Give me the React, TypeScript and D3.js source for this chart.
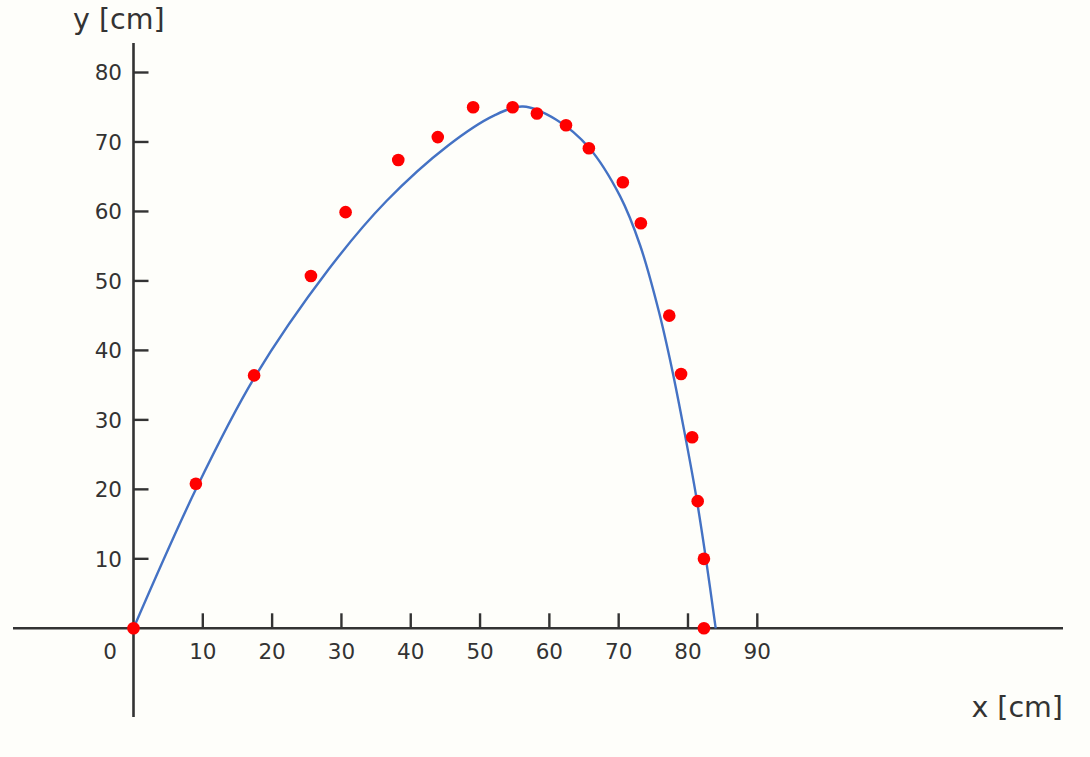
import React from 'react';
import * as d3 from 'd3';

// measured points (cm)
const pointX = [0, 9.0, 17.4, 25.6, 30.6, 38.2, 43.9, 49.0, 54.7, 58.2, 62.4, 65.7, 70.6, 73.2, 77.3, 79.0, 80.6, 81.4, 82.3, 82.3];
const pointY = [0, 20.8, 36.4, 50.7, 59.9, 67.4, 70.7, 75.0, 75.0, 74.1, 72.4, 69.1, 64.2, 58.3, 45.0, 36.6, 27.5, 18.3, 10.0, 0];

// fitted curve
const curveX = [0, 9.0, 17.4, 28.1, 36.5, 45.4, 52.0, 56.2, 61.0, 65.7, 70.2, 73.1, 75.8, 77.7, 79.5, 81.2, 82.5, 84.0];
const curveY = [0, 20.0, 36.0, 51.6, 61.5, 69.5, 73.8, 75.1, 73.2, 69.2, 62.2, 55.1, 45.6, 37.3, 28.2, 18.9, 10.6, 0];

const xTicks = [0, 10, 20, 30, 40, 50, 60, 70, 80, 90];
const yTicks = [10, 20, 30, 40, 50, 60, 70, 80];

const W = 1090;
const H = 757;
const axisColor = '#333333';
const font = '"DejaVu Sans", Verdana, sans-serif';

export default function App() {
  const x = d3.scaleLinear().domain([0, 90]).range([133.5, 757.3]);
  const y = d3.scaleLinear().domain([0, 80]).range([628.3, 72.5]);

  const line = d3
    .line<[number, number]>()
    .x((d) => x(d[0]))
    .y((d) => y(d[1]))
    .curve(d3.curveCatmullRom.alpha(0.5));

  const curveData: [number, number][] = curveX.map((v, i) => [v, curveY[i]]);
  const x0 = x(0);
  const y0 = y(0);

  return (
    <svg
      width={W}
      height={H}
      style={{ position: 'absolute', left: 0, top: 0 }}
      fontFamily={font}
    >
      <rect width={W} height={H} fill="#fefefa" />

      {/* axes */}
      <line x1={13} x2={1063} y1={y0} y2={y0} stroke={axisColor} strokeWidth={2.6} />
      <line x1={x0} x2={x0} y1={43} y2={717} stroke={axisColor} strokeWidth={2.6} />

      {yTicks.map((t) => (
        <g key={'y' + t}>
          <line x1={x0} x2={x0 + 15} y1={y(t)} y2={y(t)} stroke={axisColor} strokeWidth={2.4} />
          <text x={122} y={y(t) + 7.8} textAnchor="end" fontSize={21.5} fill={axisColor}>
            {t}
          </text>
        </g>
      ))}

      {xTicks.map((t) => (
        <g key={'x' + t}>
          {t !== 0 && (
            <line x1={x(t)} x2={x(t)} y1={y0} y2={y0 - 15} stroke={axisColor} strokeWidth={2.4} />
          )}
          <text
            x={t === 0 ? 110 : x(t)}
            y={658.5}
            textAnchor="middle"
            fontSize={21.5}
            fill={axisColor}
          >
            {t}
          </text>
        </g>
      ))}

      <text x={73} y={29} fontSize={28.5} fill={axisColor}>
        y [cm]
      </text>
      <text x={1063} y={717} textAnchor="end" fontSize={28.5} fill={axisColor}>
        x [cm]
      </text>

      <path d={line(curveData) ?? ''} fill="none" stroke="#4472c4" strokeWidth={2.4} />

      {pointX.map((v, i) => (
        <circle key={i} cx={x(v)} cy={y(pointY[i])} r={6.3} fill="#ff0000" />
      ))}
    </svg>
  );
}
